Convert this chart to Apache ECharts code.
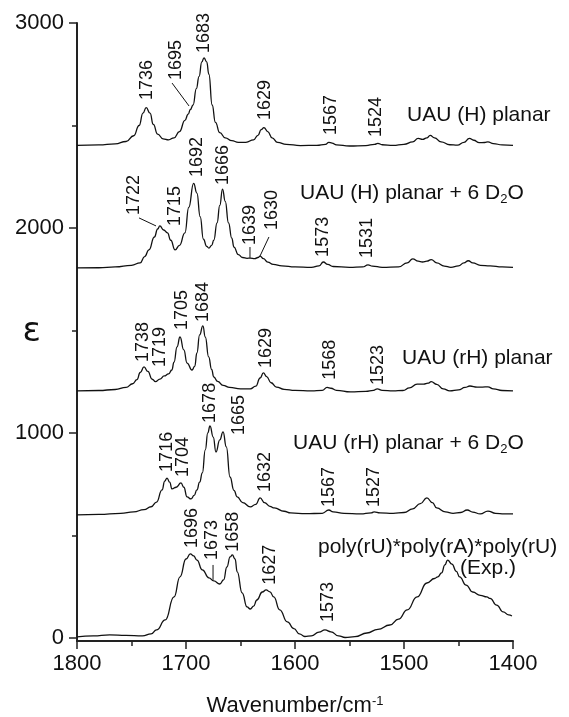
<!DOCTYPE html>
<html>
<head>
<meta charset="utf-8">
<script src="https://cdn.jsdelivr.net/npm/echarts@6/dist/echarts.min.js"></script>
<style>
  html, body { margin: 0; padding: 0; background: #fff; }
  #chart { width: 569px; height: 717px; }
</style>
</head>
<body>
<div id="chart"></div>
<script>
// ---------- data ----------
const xTickInterval = 100;
const yTickValues = [0, 1000, 2000, 3000];
const yMinorTickValues = [500, 1500, 2500];

// UAU (H) planar (offset 2400)
const uauHPlanar = [
  [1800,2403],[1780,2405],[1765,2410],[1755,2422],[1748,2450],[1743,2500],[1739.5,2560],[1736.5,2587],
  [1733,2560],[1730,2505],[1726,2458],[1721,2435],[1716,2430],[1711,2440],[1706,2470],[1701,2525],
  [1698,2555],[1696,2578],[1693.5,2600],[1690.5,2680],[1688,2740],[1685.5,2810],[1683.5,2830],[1681,2810],
  [1679,2750],[1676,2600],[1673,2515],[1669,2465],[1664,2440],[1658,2426],[1652,2418],[1645,2418],
  [1638,2430],[1634,2452],[1631,2480],[1628.5,2490],[1625,2470],[1621,2440],[1616,2418],[1608,2408],
  [1595,2402],[1580,2403],[1572,2408],[1569,2418],[1566,2414],[1562,2405],[1550,2400],[1535,2402],
  [1527,2408],[1524,2413],[1520,2406],[1510,2403],[1500,2408],[1492,2420],[1487,2437],[1483,2432],
  [1479,2440],[1476,2452],[1472,2440],[1466,2420],[1458,2406],[1451,2404],[1445,2418],[1440,2437],
  [1436,2428],[1431,2416],[1426,2417],[1423,2420],[1418,2412],[1410,2405],[1400,2403]
];

// UAU (H) planar + 6 D2O (offset 1800)
const uauHPlanarD2O = [
  [1800,1805],[1780,1806],[1765,1810],[1750,1818],[1742,1830],[1738,1860],[1734,1893],[1729,1956],
  [1726,1995],[1724,2010],[1720.5,1990],[1717,1976],[1714,1940],[1710,1893],[1706,1915],[1701,1976],
  [1697.5,2100],[1693,2218],[1690,2170],[1687,2055],[1684,1945],[1681,1910],[1679,1902],[1676.5,1915],
  [1674.5,1940],[1671.5,2025],[1669,2110],[1666.5,2190],[1664,2130],[1661,2025],[1658,1950],[1656,1907],
  [1652,1870],[1648,1856],[1644,1852],[1641,1853],[1637,1850],[1634,1856],[1632,1863],[1629,1850],
  [1625,1833],[1620,1822],[1612,1815],[1600,1810],[1585,1808],[1578,1815],[1574,1834],[1570,1822],
  [1565,1812],[1550,1808],[1538,1810],[1533,1820],[1529,1814],[1520,1808],[1505,1810],[1497,1830],
  [1492,1849],[1487,1838],[1483,1834],[1479,1838],[1475,1846],[1470,1830],[1463,1814],[1457,1808],
  [1450,1815],[1445,1830],[1441,1840],[1437,1830],[1430,1818],[1421,1815],[1410,1810],[1400,1808]
];

// UAU (rH) planar (offset 1200)
const uauRHPlanar = [
  [1800,1205],[1780,1207],[1765,1212],[1755,1222],[1749,1240],[1745,1260],[1742,1295],[1738.5,1322],
  [1735,1300],[1731,1262],[1728,1250],[1724,1263],[1720,1278],[1716,1288],[1713,1307],[1711,1345],
  [1708.2,1420],[1705.5,1468],[1702,1405],[1699,1341],[1694.5,1307],[1692,1325],[1690,1390],[1687.5,1478],
  [1684.5,1522],[1682.3,1468],[1679.2,1371],[1676.5,1310],[1674.5,1273],[1671,1252],[1666,1232],[1660,1222],
  [1650,1215],[1641,1215],[1636,1228],[1632,1268],[1629,1293],[1626,1275],[1622,1245],[1617,1224],
  [1610,1213],[1600,1208],[1585,1205],[1575,1208],[1570.5,1222],[1567,1218],[1562,1208],[1549,1200],
  [1535,1203],[1528,1208],[1524.5,1215],[1520,1208],[1510,1205],[1501,1207],[1495,1220],[1488,1238],
  [1482,1238],[1478,1243],[1475,1250],[1470,1237],[1464,1215],[1458,1205],[1450,1210],[1444,1222],
  [1439.5,1229],[1433,1224],[1428,1224],[1423,1225],[1418,1215],[1410,1207],[1400,1205]
];

// UAU (rH) planar + 6 D2O (offset 600)
const uauRHPlanarD2O = [
  [1800,600],[1780,603],[1760,608],[1748,615],[1738.5,626],[1732,640],[1727,663],[1722,722],
  [1719.5,765],[1717.4,780],[1715,760],[1712.8,727],[1709,735],[1704.6,756],[1702,735],[1699,688],
  [1695.4,678],[1692.5,695],[1690,722],[1687.5,760],[1685,805],[1682.3,917],[1680,1000],[1678,1034],
  [1675,980],[1672.5,907],[1669,966],[1666,1005],[1663,932],[1659.6,785],[1656,720],[1653,688],
  [1648,660],[1641,639],[1636,652],[1632,683],[1628,660],[1623,642],[1619,634],[1610,618],
  [1604,610],[1590,606],[1575,608],[1569,624],[1565,615],[1555,608],[1540,605],[1530,610],
  [1527.5,615],[1522,610],[1510,608],[1500,612],[1492,630],[1485,655],[1479,683],[1474,660],
  [1470,634],[1462,615],[1455,608],[1448,612],[1442,624],[1437,614],[1430,605],[1423,619],
  [1416,608],[1408,605],[1400,605]
];

// poly(rU)*poly(rA)*poly(rU) experimental
const polyExp = [
  [1800,5],[1785,10],[1770,15],[1755,12],[1740,10],[1732,20],[1727,39],[1719,88],
  [1711,200],[1705.5,298],[1700,385],[1696,410],[1693,400],[1690,380],[1685,332],[1679,293],
  [1674.5,278],[1669,263],[1665.5,283],[1662.5,346],[1659.5,395],[1657.5,405],[1655,385],[1653,322],
  [1648.5,220],[1644,151],[1641,141],[1638,155],[1635,185],[1630,224],[1626.5,234],[1623,225],
  [1619.5,200],[1614,137],[1607,78],[1601,45],[1596,20],[1591,7],[1585,10],[1578,28],
  [1572.5,39],[1567,30],[1560,10],[1554,2],[1545,6],[1534,24],[1524,42],[1513,63],
  [1505,92],[1497,137],[1488,200],[1479,268],[1472,290],[1469,298],[1465.5,317],[1462.5,356],
  [1460,380],[1456,360],[1452,325],[1449,298],[1443,258],[1437,224],[1430,208],[1424,200],
  [1421,193],[1415,160],[1409,127],[1404,112],[1401,107]
];

// peak labels: [wavenumber, value at text start, text]
const peakLabels = [
  [1735.8,2624,'1736'],[1709.2,2722,'1695'],[1683.5,2854,'1683'],[1627.5,2527,'1629'],[1567,2454,'1567'],[1525.7,2444,'1524'],
  [1747.7,2063,'1722'],[1710,2010,'1715'],[1690,2249,'1692'],[1665.6,2210,'1666'],[1641.3,1917,'1639'],[1621.1,1990,'1630'],[1574.3,1859,'1573'],[1534,1854,'1531'],
  [1739,1346,'1738'],[1723.4,1322,'1719'],[1704,1502,'1705'],[1684.4,1541,'1684'],[1627,1317,'1629'],[1567.9,1259,'1568'],[1523.9,1234,'1523'],
  [1717.4,810,'1716'],[1702.3,785,'1704'],[1678.4,1049,'1678'],[1651.4,990,'1665'],[1627.5,712,'1632'],[1568.8,639,'1567'],[1527.5,639,'1527'],
  [1694.5,439,'1696'],[1675.7,380,'1673'],[1656.4,420,'1658'],[1622.9,259,'1627'],[1569.7,78,'1573']
];

// leader lines: [w1, v1, w2, v2]
const leaderLines = [
  [1712.8,2707,1697.2,2595],
  [1743.1,2049,1727.5,2010],
  [1641.3,1907,1641.3,1854],
  [1623.9,1956,1632.1,1863],
  [1675.2,356,1675.2,283]
];

// series titles: [wavenumber at left edge, value at middle, text]
const seriesTitles = [
  [1497.2,2551,'UAU (H) planar'],
  [1595.4,2171,'UAU (H) planar + 6 D{s|2}O'],
  [1501.8,1366,'UAU (rH) planar'],
  [1601.8,951,'UAU (rH) planar + 6 D{s|2}O'],
  [1578.9,444,'poly(rU)*poly(rA)*poly(rU)'],
  [1448.6,341,'(Exp.)']
];

// ---------- chart ----------
const FONT = 'Liberation Sans, Arial, Helvetica, sans-serif';
const chart = echarts.init(document.getElementById('chart'), null, { renderer: 'canvas' });

function spectrum(name, data) {
  return {
    name, type: 'line', data, showSymbol: false, symbol: 'none',
    smooth: 0.5, smoothMonotone: 'x',
    lineStyle: { color: '#111', width: 1.3 },
    silent: true, z: 3
  };
}
const plain = v => String(v);

const option = {
  animation: false,
  backgroundColor: '#fff',
  grid: { left: 77, right: 56, top: 23, bottom: 76, containLabel: false, outerBoundsMode: 'none' },
  xAxis: {
    type: 'value', inverse: true, min: 1400, max: 1800, interval: xTickInterval,
    name: 'Wavenumber/cm{sup|-1}', nameLocation: 'middle', nameGap: 54, nameMoveOverlap: false,
    nameTextStyle: { color: '#111', fontSize: 22, fontFamily: FONT,
      rich: { sup: { fontSize: 13, verticalAlign: 'top', fontFamily: FONT, color: '#111' } } },
    axisLine: { show: true, onZero: false, lineStyle: { color: '#222', width: 2 } },
    axisTick: { show: true, length: 8, lineStyle: { color: '#222', width: 1.5 } },
    minorTick: { show: true, splitNumber: 2, length: 5, lineStyle: { color: '#222', width: 1.5 } },
    splitLine: { show: false },
    axisLabel: { color: '#111', fontSize: 22, fontFamily: FONT, margin: 12, formatter: plain }
  },
  yAxis: [
    {
      type: 'value', min: -15, max: 3000, position: 'left',
      name: 'ε', nameLocation: 'middle', nameGap: 36, nameRotate: 0, nameMoveOverlap: false,
      nameTextStyle: { color: '#111', fontSize: 34, fontFamily: 'DejaVu Sans, sans-serif' },
      axisLine: { show: true, onZero: false, lineStyle: { color: '#222', width: 2 } },
      axisTick: { show: true, length: 8, customValues: yTickValues, lineStyle: { color: '#222', width: 1.5 } },
      axisLabel: { show: true, customValues: yTickValues, color: '#111', fontSize: 22, fontFamily: FONT, margin: 13, formatter: plain },
      splitLine: { show: false }
    },
    {
      type: 'value', min: -15, max: 3000, position: 'left', offset: 0,
      axisLine: { show: false },
      axisTick: { show: true, length: 5, customValues: yMinorTickValues, lineStyle: { color: '#222', width: 1.5 } },
      axisLabel: { show: false },
      splitLine: { show: false }
    }
  ],
  series: [
    spectrum('UAU (H) planar', uauHPlanar),
    spectrum('UAU (H) planar + 6 D2O', uauHPlanarD2O),
    spectrum('UAU (rH) planar', uauRHPlanar),
    spectrum('UAU (rH) planar + 6 D2O', uauRHPlanarD2O),
    spectrum('poly(rU)*poly(rA)*poly(rU) (Exp.)', polyExp),
    {
      type: 'custom', name: 'peak labels', silent: true, z: 5, clip: false,
      data: peakLabels.map(d => [d[0], d[1]]),
      renderItem: function (params, api) {
        const p = api.coord([api.value(0), api.value(1)]);
        return {
          type: 'text', x: p[0], y: p[1], rotation: Math.PI / 2,
          style: { text: peakLabels[params.dataIndex][2], fill: '#111',
            fontSize: 18, fontFamily: FONT, align: 'left', verticalAlign: 'middle' }
        };
      }
    },
    {
      type: 'custom', name: 'leaders', silent: true, z: 4, clip: false,
      data: leaderLines,
      renderItem: function (params, api) {
        const a = api.coord([api.value(0), api.value(1)]);
        const b = api.coord([api.value(2), api.value(3)]);
        return { type: 'line', shape: { x1: a[0], y1: a[1], x2: b[0], y2: b[1] },
          style: { stroke: '#111', lineWidth: 1 } };
      }
    },
    {
      type: 'custom', name: 'titles', silent: true, z: 5, clip: false,
      data: seriesTitles.map(d => [d[0], d[1]]),
      renderItem: function (params, api) {
        const p = api.coord([api.value(0), api.value(1)]);
        return {
          type: 'text', x: p[0], y: p[1],
          style: { text: seriesTitles[params.dataIndex][2], fill: '#111',
            fontSize: 21, fontFamily: FONT, align: 'left', verticalAlign: 'middle',
            rich: { s: { fontSize: 13, fontFamily: FONT, fill: '#111', verticalAlign: 'bottom', padding: [12, 0, 0, 0] } } }
        };
      }
    }
  ]
};
chart.setOption(option);
</script>
</body>
</html>
